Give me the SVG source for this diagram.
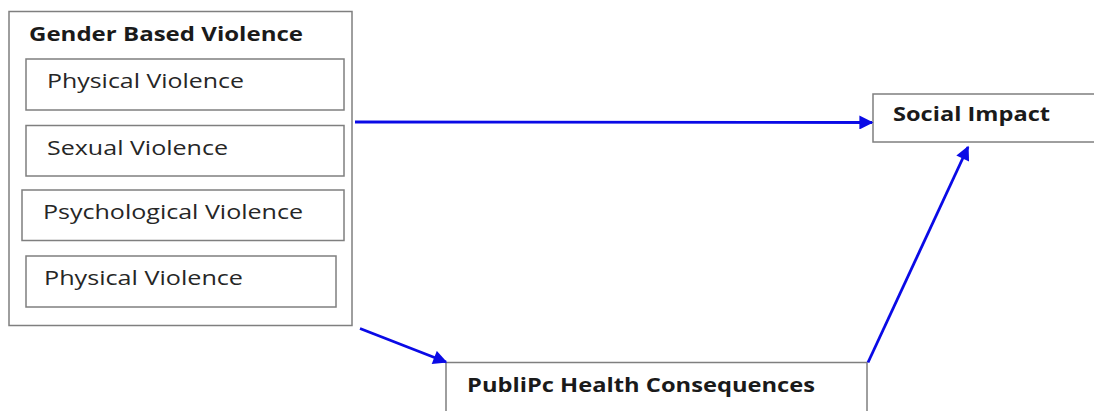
<svg xmlns="http://www.w3.org/2000/svg" width="1094" height="411" viewBox="0 0 1094 411">
<style>
.box{fill:#ffffff;stroke:#7f7f7f;stroke-width:1.5}
.t{font-family:"Open Sans","Liberation Sans",sans-serif;fill:#1a1a1a}
.b{font-weight:bold;font-size:19px}
.r{font-size:20px;fill:#262626}
.c{stroke:#0a0ae6;stroke-width:2.8;fill:none}
</style>
<defs>
<marker id="ah" viewBox="0 0 10 10" refX="9" refY="5" markerWidth="5.5" markerHeight="5" markerUnits="strokeWidth" orient="auto">
<path d="M0,0 L10,5 L0,10 z" fill="#0a0ae6"/>
</marker>
</defs>
<rect width="1094" height="411" fill="#ffffff"/>
<g id="gbv">
<rect class="box" x="9" y="11.5" width="343" height="314"/>
<text class="t b" x="29" y="41" textLength="274" lengthAdjust="spacingAndGlyphs">Gender Based Violence</text>
</g>
<g id="physical1">
<rect class="box" x="26" y="59" width="318" height="51"/>
<text class="t r" x="47" y="88" textLength="197" lengthAdjust="spacingAndGlyphs">Physical Violence</text>
</g>
<g id="sexual">
<rect class="box" x="26" y="125.5" width="318" height="50.5"/>
<text class="t r" x="47" y="155" textLength="181" lengthAdjust="spacingAndGlyphs">Sexual Violence</text>
</g>
<g id="psychological">
<rect class="box" x="22" y="190" width="322" height="50.5"/>
<text class="t r" x="43" y="219" textLength="260" lengthAdjust="spacingAndGlyphs">Psychological Violence</text>
</g>
<g id="physical2">
<rect class="box" x="26" y="256" width="310" height="51"/>
<text class="t r" x="44" y="285" textLength="199" lengthAdjust="spacingAndGlyphs">Physical Violence</text>
</g>
<g id="social">
<rect class="box" x="873" y="94" width="230" height="48"/>
<text class="t b" x="893" y="121" textLength="157" lengthAdjust="spacingAndGlyphs">Social Impact</text>
</g>
<g id="public">
<rect class="box" x="446" y="362.5" width="421" height="60"/>
<text class="t b" x="467" y="392" textLength="348" lengthAdjust="spacingAndGlyphs">PubliPc Health Consequences</text>
</g>
<g id="connectors">
<path class="c" d="M355,122 L872,122.5" marker-end="url(#ah)"/>
<path class="c" d="M360,328.5 L446,362" marker-end="url(#ah)"/>
<path class="c" d="M868,362.5 L968,147" marker-end="url(#ah)"/>
</g>
</svg>
